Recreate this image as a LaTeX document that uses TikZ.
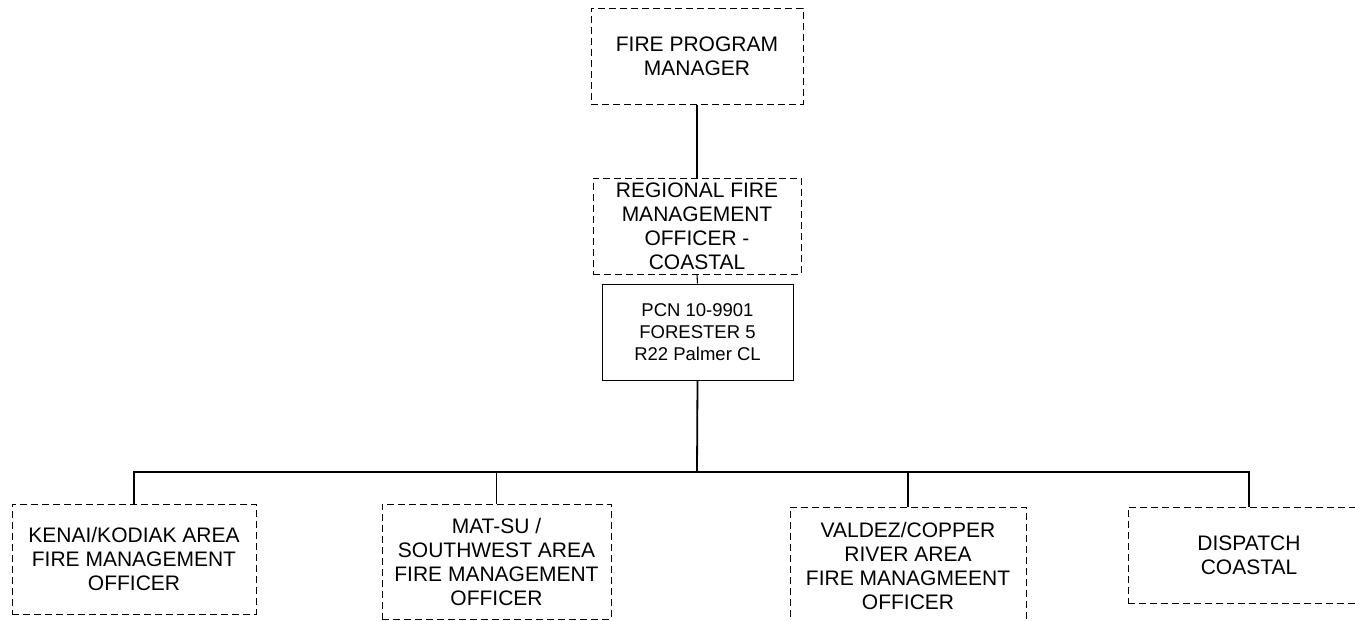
\documentclass[tikz,border=0pt]{standalone}
\usepackage{fontspec}
\setmainfont{Liberation Sans}
\begin{document}
\begin{tikzpicture}[x=1pt,y=-1pt,
  box/.style={draw=black, line width=1pt, dash pattern=on 7pt off 4pt, inner sep=0pt, align=center,
    font=\fontsize{21}{24}\selectfont, text=black},
  solidbox/.style={draw=black, line width=1pt, inner sep=0pt, align=center,
    font=\fontsize{18.5}{22}\selectfont, text=black},
  conn/.style={draw=black, line width=1.1pt},
  thickconn/.style={draw=black, line width=1.8pt}]
\useasboundingbox (0,0) rectangle (1355,621);
\clip (0,0) rectangle (1355,621);
\fill[white] (0,0) rectangle (1355,621);

\node[box, minimum width=212pt, minimum height=96pt] (fpm) at (697,56) {FIRE PROGRAM\\MANAGER};
\node[box, minimum width=208pt, minimum height=96pt] (rfmo) at (697,226) {REGIONAL FIRE\\MANAGEMENT\\OFFICER -\\COASTAL};
\node[solidbox, minimum width=191pt, minimum height=96pt] (pcn) at (697.5,332) {PCN 10-9901\\FORESTER 5\\R22 Palmer CL};

\node[box, minimum width=244pt, minimum height=110pt] (kenai) at (134,559) {KENAI/KODIAK AREA\\FIRE MANAGEMENT\\OFFICER};
\node[box, minimum width=229pt, minimum height=115pt] (matsu) at (496.5,561.5) {MAT-SU /\\SOUTHWEST AREA\\FIRE MANAGEMENT\\OFFICER};
\node[box, minimum width=236pt, minimum height=118pt] (valdez) at (908,566) {VALDEZ/COPPER\\RIVER AREA\\FIRE MANAGMEENT\\OFFICER};
\node[box, minimum width=242pt, minimum height=96pt] (dispatch) at (1249,555) {DISPATCH\\COASTAL};

\coordinate (bus) at (697,472);

\draw[conn] (fpm.south) -- (rfmo.north);
\draw[conn] (rfmo.south) -- (pcn.north);
\draw[thickconn] (pcn.south) -- (bus);
\draw[conn] (kenai.north) |- (bus) -| (dispatch.north);
\draw[thickconn] (matsu.north |- bus) -- (valdez.north |- bus);
\draw[conn] (matsu.north) -- (matsu.north |- bus);
\draw[conn] (valdez.north) -- (valdez.north |- bus);
\end{tikzpicture}
\end{document}
